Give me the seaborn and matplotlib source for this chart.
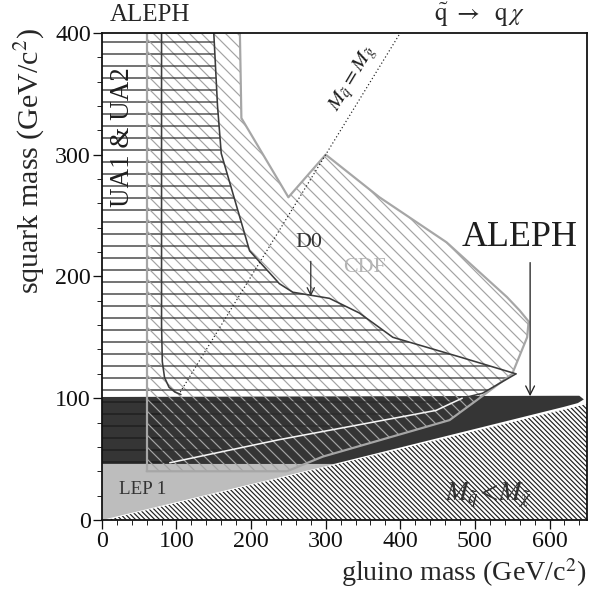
import numpy as np
import pandas as pd
import seaborn as sns
import matplotlib.pyplot as plt
from matplotlib.patches import Polygon

# --- exclusion contours (gluino mass, squark mass) in GeV/c^2 ---
cdf_x = [60, 248, 296, 466, 515, 550, 570, 572, 560, 543, 462, 372, 300, 250, 187, 185, 60]
cdf_y = [40, 40, 52, 82, 104, 120, 150, 163, 172, 183, 228, 265, 300, 265, 330, 400, 400]

d0_top_x = [150, 155, 160, 198, 238, 256, 305, 345, 390, 479, 555]
d0_top_y = [400, 340, 301, 221, 194, 187, 182, 170, 150, 134, 120]
d0_tip_x = [555, 510, 483]
d0_tip_y = [120, 104, 100]
d0_low_x = [483, 448, 238, 91]
d0_low_y = [100, 90, 66, 47]
d0_left_x = [80, 80, 81, 84, 90, 98, 106]
d0_left_y = [400, 160, 130, 117, 109, 105, 103]

ua_x = [0, 80, 80, 0]
ua_y = [46, 46, 400, 400]

aleph_x = [0, 311, 620, 638, 646, 640, 620, 0]
aleph_y = [46, 46, 93, 96, 99, 102, 102, 101]

lep1_x = [0, 0, 313]
lep1_y = [0, 46, 46]

chi_x = [0, 650, 650]
chi_y = [0, 0, 96]

mqmg_x = [105, 400]
mqmg_y = [105, 400]

sns.set_theme(style="ticks")
plt.rcParams['font.family'] = ['Liberation Serif', 'DejaVu Serif']
plt.rcParams['mathtext.fontset'] = 'stix'
plt.rcParams['hatch.linewidth'] = 1.2

fig = plt.figure(figsize=(610 / 72, 597 / 72), dpi=72)
ax = fig.add_axes([0.167, 0.129, 0.795, 0.816])
ax.set_xlim(0, 650)
ax.set_ylim(0, 400)

# M_q < M_chi forbidden triangle
ax.add_patch(Polygon(np.c_[chi_x, chi_y], closed=True, facecolor='white',
                     edgecolor='#222222', hatch='\\' * 5, lw=0, zorder=1))
ax.plot(chi_x[:1] + chi_x[2:], chi_y[:1] + chi_y[2:], color='white', lw=2, zorder=1.5)
# LEP 1
ax.add_patch(Polygon(np.c_[lep1_x, lep1_y], closed=True, facecolor='#bdbdbd',
                     lw=0, zorder=2))
# ALEPH
ax.add_patch(Polygon(np.c_[aleph_x, aleph_y], closed=True, facecolor='#353535',
                     lw=0, zorder=3))
# UA1 & UA2
ax.add_patch(Polygon(np.c_[ua_x, ua_y], closed=True, facecolor='none',
                     edgecolor='#1a1a1a', hatch='-', lw=0, zorder=4))
# CDF
ax.add_patch(Polygon(np.c_[cdf_x, cdf_y], closed=True, facecolor='none',
                     edgecolor='#a4a4a4', hatch='\\' * 2, lw=0, zorder=5))
# D0
d0_poly_x = [80] + d0_top_x + d0_tip_x[1:] + d0_low_x[1:] + [80]
d0_poly_y = [400] + d0_top_y + d0_tip_y[1:] + d0_low_y[1:] + [45]
ax.add_patch(Polygon(np.c_[d0_poly_x, d0_poly_y], closed=True, facecolor='none',
                     edgecolor='#2a2a2a', hatch='-', lw=0, zorder=6))

# contour lines
cdf = pd.DataFrame({'x': cdf_x, 'y': cdf_y})
sns.lineplot(data=cdf, x='x', y='y', sort=False, estimator=None, color='#a6a6a6',
             lw=2.2, ax=ax, zorder=7)
ax.plot([60, 60], [40, 400], color='#a6a6a6', lw=2.2, zorder=7)
for xs, ys, c in [(d0_top_x, d0_top_y, '#3c3c3c'), (d0_tip_x, d0_tip_y, '#3c3c3c'),
                  (d0_left_x, d0_left_y, '#3c3c3c'), (d0_low_x, d0_low_y, '#f4f4f4')]:
    sns.lineplot(x=xs, y=ys, sort=False, estimator=None, color=c, lw=1.6, ax=ax, zorder=8)
sns.lineplot(x=mqmg_x, y=mqmg_y, color='#222222', lw=1.2, ls=(0, (1, 2)), ax=ax, zorder=9)

# labels in plot
ax.text(28, 314, 'UA1 & UA2', rotation=90, fontsize=27, ha='center', va='center',
        color='#1e1e1e', zorder=10)
ax.text(55, 25, 'LEP 1', fontsize=19, ha='center', va='center', color='#333333', zorder=10)
ax.text(278, 228, 'D0', fontsize=22, ha='center', va='center', color='#333333', zorder=10)
ax.text(352, 207, 'CDF', fontsize=22, ha='center', va='center', color='#b5b5b5', zorder=10)
ax.text(560, 232, 'ALEPH', fontsize=36, ha='center', va='center', color='#1e1e1e', zorder=10)
ax.text(519, 20, r'$M_{\tilde{q}}\!<\!M_{\tilde{\chi}}$', fontsize=27, ha='center',
        va='center', color='#333333', zorder=10)
ax.text(337, 362, r'$M_{\tilde{q}} = M_{\tilde{g}}$', fontsize=21, rotation=59,
        ha='center', va='center', color='#1e1e1e', zorder=10)
ax.annotate('', xy=(574, 100), xytext=(574, 213),
            arrowprops=dict(arrowstyle='->', lw=1.3, color='#222222', mutation_scale=22),
            zorder=10)
ax.annotate('', xy=(280, 182), xytext=(280, 214),
            arrowprops=dict(arrowstyle='->', lw=1.3, color='#333333', mutation_scale=18),
            zorder=10)

# titles above frame
ax.text(0.099, 1.037, 'ALEPH', transform=ax.transAxes, fontsize=25, ha='center', va='center')
ax.text(0.779, 1.037, r'$\tilde{\mathrm{q}}\ \rightarrow\ \ \mathrm{q}\,\chi$',
        transform=ax.transAxes, fontsize=25, ha='center', va='center')
ax.text(-0.148, 1.01, r'squark mass (GeV/c$^2$)', transform=ax.transAxes, fontsize=30,
        rotation=90, ha='center', va='top')
ax.text(1.0, -0.107, r'gluino mass (GeV/c$^2$)', transform=ax.transAxes, fontsize=28,
        ha='right', va='center')

ax.set_xlabel('')
ax.set_ylabel('')
ax.set_xticks([0, 100, 200, 300, 400, 500, 600])
ax.set_yticks([0, 100, 200, 300, 400])
ax.set_xticks(np.arange(0, 651, 20), minor=True)
ax.set_yticks(np.arange(0, 401, 20), minor=True)
ax.tick_params(which='major', direction='out', length=9, width=1.3, labelsize=24, pad=2,
               colors='#111111')
ax.tick_params(which='minor', direction='out', length=5, width=1.0)
for s in ax.spines.values():
    s.set_color('#111111')
    s.set_linewidth(1.8)
    s.set_zorder(11)

fig.savefig('out.png', dpi=72)
